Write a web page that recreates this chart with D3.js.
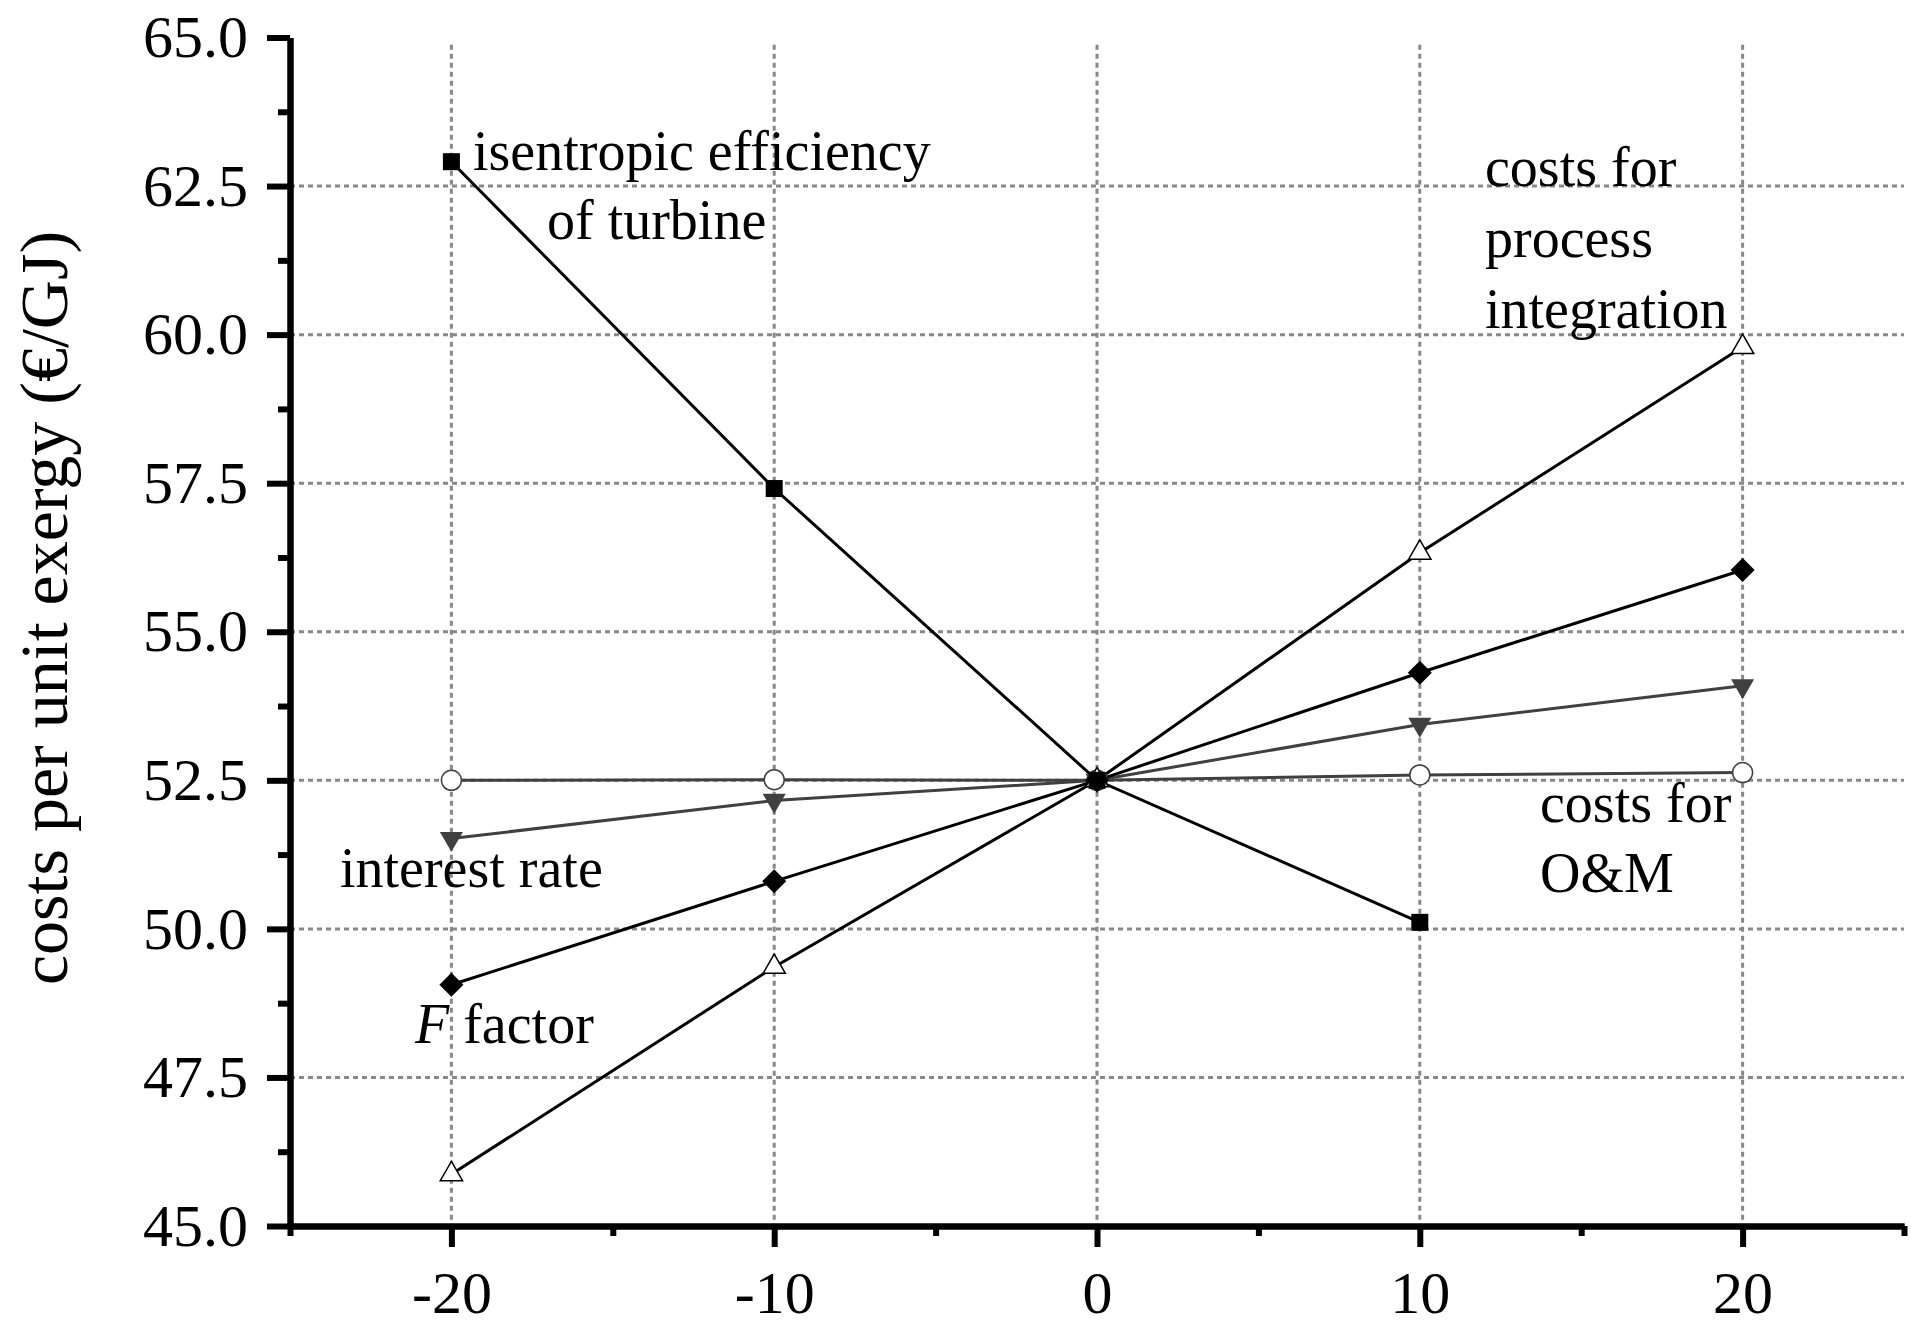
<!DOCTYPE html>
<html>
<head>
<meta charset="utf-8">
<script src="https://cdn.jsdelivr.net/npm/d3@7"></script>
<style>
  html, body { margin: 0; padding: 0; background: #fff; }
  svg { display: block; }
  text { font-family: "Liberation Serif", "Times New Roman", serif; fill: #000; }
</style>
</head>
<body>
<svg id="chart" width="1911" height="1326"></svg>
<script>
// variation (%) on the x axis
const variation = [-20, -10, 0, 10, 20];

// costs per unit exergy for each parameter
const isentropicEff = [62.91, 57.41, 52.5, 50.11, null];
const processIntegration = [45.87, 49.36, 52.5, 56.33, 59.79];
const fFactor = [49.06, 50.80, 52.5, 54.31, 56.04];
const interestRate = [51.52, 52.16, 52.5, 53.44, 54.09];
const omCosts = [52.50, 52.51, 52.5, 52.59, 52.63];

const xTicksMajor = [-20, -10, 0, 10, 20];
const xTicksMinor = [-25, -15, -5, 5, 15, 25];
const yTicksMajor = [45, 47.5, 50, 52.5, 55, 57.5, 60, 62.5, 65];
const yTicksMinor = [46.25, 48.75, 51.25, 53.75, 56.25, 58.75, 61.25, 63.75];

const yTitle = "costs per unit exergy (€/GJ)";

const svg = d3.select('#chart');
const x = d3.scaleLinear().domain([-25, 25]).range([290, 1904]);
const y = d3.scaleLinear().domain([45, 65]).range([1226, 37.5]);

// grid
const grid = svg.append('g').attr('stroke', '#888').attr('stroke-width', 3)
    .attr('stroke-dasharray', '5,4').attr('fill', 'none');
grid.selectAll('line.v').data(xTicksMajor).enter().append('line')
    .attr('x1', d => x(d)).attr('x2', d => x(d))
    .attr('y1', y(64.88)).attr('y2', y(45));
grid.selectAll('line.h').data(yTicksMajor.filter(d => d > 45 && d < 65)).enter().append('line')
    .attr('x1', x(-25)).attr('x2', x(25))
    .attr('y1', d => y(d)).attr('y2', d => y(d));

// series
const series = [
    { name: 'om', values: omCosts, color: '#404040', symbol: d3.symbolCircle, size: 314, fill: '#fff', rot: 0 },
    { name: 'interest', values: interestRate, color: '#404040', symbol: d3.symbolTriangle, size: 230, fill: '#404040', rot: 180 },
    { name: 'ffactor', values: fFactor, color: '#000', symbol: d3.symbolSquare, size: 289, fill: '#000', rot: 45 },
    { name: 'process', values: processIntegration, color: '#000', symbol: d3.symbolTriangle, size: 215, fill: '#fff', rot: 0 },
    { name: 'isentropic', values: isentropicEff, color: '#000', symbol: d3.symbolSquare, size: 289, fill: '#000', rot: 0 }
];

const line = d3.line()
    .defined(d => d.v !== null)
    .x(d => x(d.x))
    .y(d => y(d.v));

series.forEach(s => {
    let pts = variation.map((v, i) => ({ x: v, v: s.values[i] }));
    svg.append('path')
        .datum(pts)
        .attr('fill', 'none')
        .attr('stroke', s.color)
        .attr('stroke-width', 3)
        .attr('d', line);
});

series.forEach(s => {
    let pts = variation.map((v, i) => ({ x: v, v: s.values[i] })).filter(d => d.v !== null);
    svg.append('g').selectAll('path').data(pts).enter().append('path')
        .attr('d', d3.symbol().type(s.symbol).size(s.size))
        .attr('transform', d => `translate(${x(d.x)},${y(d.v)}) rotate(${s.rot})`)
        .attr('fill', s.fill)
        .attr('stroke', s.fill === '#fff' ? s.color : 'none')
        .attr('stroke-width', 1.5);
});

// axes
function styleAxis(g) {
    g.select('.domain').attr('stroke', '#000').attr('stroke-width', 6);
    g.selectAll('.tick line').attr('stroke', '#000').attr('stroke-width', 6);
    g.selectAll('.tick text')
        .attr('font-family', '"Liberation Serif", "Times New Roman", serif')
        .attr('font-size', 60).attr('fill', '#000');
}

svg.append('g')
    .attr('transform', `translate(${x(-25)},0)`)
    .call(d3.axisLeft(y).tickValues(yTicksMinor).tickSize(12).tickSizeOuter(0).tickFormat(''))
    .call(styleAxis);
svg.append('g')
    .attr('transform', `translate(${x(-25)},0)`)
    .call(d3.axisLeft(y).tickValues(yTicksMajor).tickSize(23).tickSizeOuter(0)
        .tickPadding(19).tickFormat(d3.format('.1f')))
    .call(styleAxis);

svg.append('g')
    .attr('transform', `translate(0,${y(45)})`)
    .call(d3.axisBottom(x).tickValues(xTicksMinor).tickSize(10).tickSizeOuter(0).tickFormat(''))
    .call(styleAxis);
svg.append('g')
    .attr('transform', `translate(0,${y(45)})`)
    .call(d3.axisBottom(x).tickValues(xTicksMajor).tickSize(21).tickSizeOuter(0)
        .tickPadding(23).tickFormat(d => String(d)))
    .call(styleAxis);

// y axis title
svg.append('text')
    .attr('transform', 'translate(67,608) rotate(-90)')
    .attr('text-anchor', 'middle')
    .attr('font-size', 68)
    .text(yTitle);

// annotations
const notes = [
    { t: 'isentropic efficiency', x: 473, y: 170 },
    { t: 'of turbine', x: 547, y: 239 },
    { t: 'costs for', x: 1485, y: 186 },
    { t: 'process', x: 1485, y: 257 },
    { t: 'integration', x: 1485, y: 328 },
    { t: 'costs for', x: 1540, y: 822 },
    { t: 'O&M', x: 1540, y: 892 },
    { t: 'interest rate', x: 340, y: 887 }
];
svg.append('g').selectAll('text').data(notes).enter().append('text')
    .attr('x', d => d.x).attr('y', d => d.y)
    .attr('font-size', 56)
    .text(d => d.t);

const ff = svg.append('text').attr('x', 415).attr('y', 1043).attr('font-size', 56);
ff.append('tspan').attr('font-style', 'italic').text('F');
ff.append('tspan').text(' factor');
</script>
</body>
</html>
